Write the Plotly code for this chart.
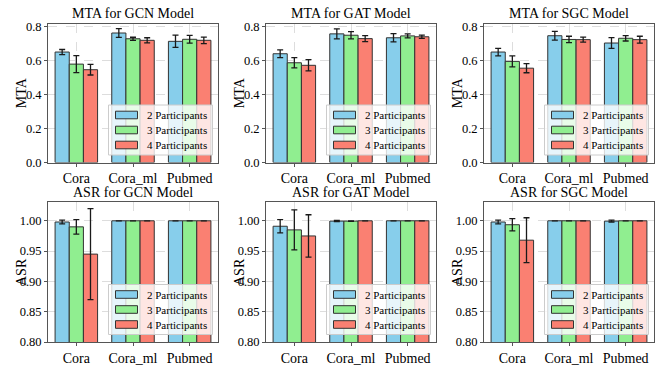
import plotly.graph_objects as go

datasets = ["Cora", "Cora_ml", "Pubmed"]
participants = ["2 Participants", "3 Participants", "4 Participants"]
models = ["GCN", "GAT", "SGC"]
colors = ["#87CEEB", "#90EE90", "#FA8072"]

# MTA means / std per model: rows = participants, cols = datasets
mta_gcn = [[0.650, 0.762, 0.713], [0.579, 0.728, 0.725], [0.546, 0.719, 0.719]]
mta_gcn_err = [[0.015, 0.026, 0.036], [0.050, 0.009, 0.023], [0.031, 0.015, 0.019]]
mta_gat = [[0.640, 0.757, 0.734], [0.587, 0.749, 0.745], [0.572, 0.729, 0.740]]
mta_gat_err = [[0.023, 0.029, 0.024], [0.030, 0.021, 0.012], [0.033, 0.018, 0.010]]
mta_sgc = [[0.650, 0.746, 0.703], [0.595, 0.724, 0.731], [0.555, 0.723, 0.723]]
mta_sgc_err = [[0.022, 0.026, 0.032], [0.032, 0.019, 0.016], [0.027, 0.015, 0.020]]

asr_gcn = [[0.998, 1.000, 1.000], [0.990, 1.000, 1.000], [0.945, 1.000, 1.000]]
asr_gcn_err = [[0.003, 0.0, 0.0], [0.012, 0.0, 0.0], [0.075, 0.0, 0.0]]
asr_gat = [[0.991, 0.9995, 1.000], [0.985, 0.9995, 1.000], [0.975, 1.000, 1.000]]
asr_gat_err = [[0.011, 0.001, 0.0], [0.033, 0.0005, 0.0], [0.035, 0.0, 0.0]]
asr_sgc = [[0.998, 1.000, 0.9995], [0.9935, 1.000, 1.000], [0.968, 1.000, 1.000]]
asr_sgc_err = [[0.003, 0.0, 0.0015], [0.010, 0.0, 0.0], [0.037, 0.0, 0.0]]

mta_ticks = [0.0, 0.2, 0.4, 0.6, 0.8]
asr_ticks = [0.80, 0.85, 0.90, 0.95, 1.00]

panels = [
    ("MTA for GCN Model", "MTA", mta_gcn, mta_gcn_err),
    ("MTA for GAT Model", "MTA", mta_gat, mta_gat_err),
    ("MTA for SGC Model", "MTA", mta_sgc, mta_sgc_err),
    ("ASR for GCN Model", "ASR", asr_gcn, asr_gcn_err),
    ("ASR for GAT Model", "ASR", asr_gat, asr_gat_err),
    ("ASR for SGC Model", "ASR", asr_sgc, asr_sgc_err),
]

W, H = 664, 369
FONT = "Liberation Serif, Times New Roman, serif"
col_px = [(48, 218), (266, 436), (484, 654)]
row_px = [(24, 162.5), (202, 342)]


def px(x, y):
    return x / W, 1 - y / H


fig = go.Figure()
layout = dict(
    width=W, height=H, autosize=False,
    margin=dict(l=0, r=0, t=0, b=0, autoexpand=False),
    paper_bgcolor="white", plot_bgcolor="white",
    font=dict(family=FONT, size=12, color="black"),
    barmode="group", bargap=0.25, bargroupgap=0,
    showlegend=False,
)
annotations = []
shapes = []

for i, (title, ylab, vals, errs) in enumerate(panels):
    r, c = divmod(i, 3)
    n = i + 1
    xa = "x" if n == 1 else f"x{n}"
    ya = "y" if n == 1 else f"y{n}"
    for p in range(3):
        fig.add_trace(go.Bar(
            x=datasets, y=vals[p], name=participants[p],
            marker=dict(color=colors[p], line=dict(color="#333333", width=1)),
            error_y=dict(type="data", array=errs[p], color="#1a1a1a", thickness=1.3, width=3),
            xaxis=xa, yaxis=ya, offsetgroup=str(p), showlegend=False,
        ))
    x0, x1 = col_px[c]
    y0, y1 = row_px[r]
    xd = [x0 / W, x1 / W]
    yd = [1 - y1 / H, 1 - y0 / H]
    axcommon = dict(showline=True, linecolor="#555555", linewidth=1, mirror=True,
                    showgrid=True, gridcolor="#dddddd", griddash="dash", gridwidth=0.8,
                    ticks="outside", ticklen=3, tickcolor="#555555", zeroline=False,
                    automargin=False)
    layout["xaxis" if n == 1 else f"xaxis{n}"] = dict(
        domain=xd, anchor=ya, range=[-0.5, 2.5], tickangle=0,
        tickfont=dict(size=14, family=FONT, color="black"), **axcommon)
    if ylab == "MTA":
        yax = dict(range=[0, 0.815], tickvals=mta_ticks, tickformat=".1f")
    else:
        yax = dict(range=[0.8, 1.031], tickvals=asr_ticks, tickformat=".2f")
    layout["yaxis" if n == 1 else f"yaxis{n}"] = dict(
        domain=yd, anchor=xa, tickfont=dict(size=12.5, family=FONT, color="black"),
        **yax, **axcommon)

    # manual legend (lower right)
    bl, br = x1 - 109.5, x1 - 5.5
    bt, bb = y1 - 57.5, y1 - 7.5
    (pl, pt), (pr, pb) = px(bl, bt), px(br, bb)
    shapes.append(dict(type="rect", xref="paper", yref="paper", x0=pl, x1=pr, y0=pb, y1=pt,
                       fillcolor="rgba(255,255,255,0.8)", line=dict(color="#cccccc", width=1),
                       layer="above"))
    for p in range(3):
        cy = bt + 10 + 15 * p
        (sx0, sy0), (sx1, sy1) = px(bl + 7, cy - 3.8), px(bl + 29, cy + 3.8)
        shapes.append(dict(type="rect", xref="paper", yref="paper", x0=sx0, x1=sx1, y0=sy1, y1=sy0,
                           fillcolor=colors[p], line=dict(color="#333333", width=1), layer="above"))
        tx, ty = px(bl + 37, cy)
        annotations.append(dict(text=participants[p], x=tx, y=ty, xref="paper", yref="paper",
                                showarrow=False, xanchor="left", yanchor="middle", borderpad=0,
                                font=dict(size=11, family=FONT, color="black")))

    tx, ty = px((x0 + x1) / 2, y0 - 10)
    annotations.append(dict(text=title, x=tx, y=ty, xref="paper", yref="paper", showarrow=False,
                            font=dict(size=14, family=FONT), xanchor="center", yanchor="middle"))
    lx, ly = px(x0 - 27, (y0 + y1) / 2)
    annotations.append(dict(text=ylab, x=lx, y=ly, xref="paper", yref="paper", showarrow=False,
                            textangle=-90, font=dict(size=14, family=FONT),
                            xanchor="center", yanchor="middle"))

layout["annotations"] = annotations
layout["shapes"] = shapes
fig.update_layout(**layout)
fig.write_html("out.html", config={"displayModeBar": False},
               post_script="document.body.style.margin='0px';document.body.style.overflow='hidden';")
